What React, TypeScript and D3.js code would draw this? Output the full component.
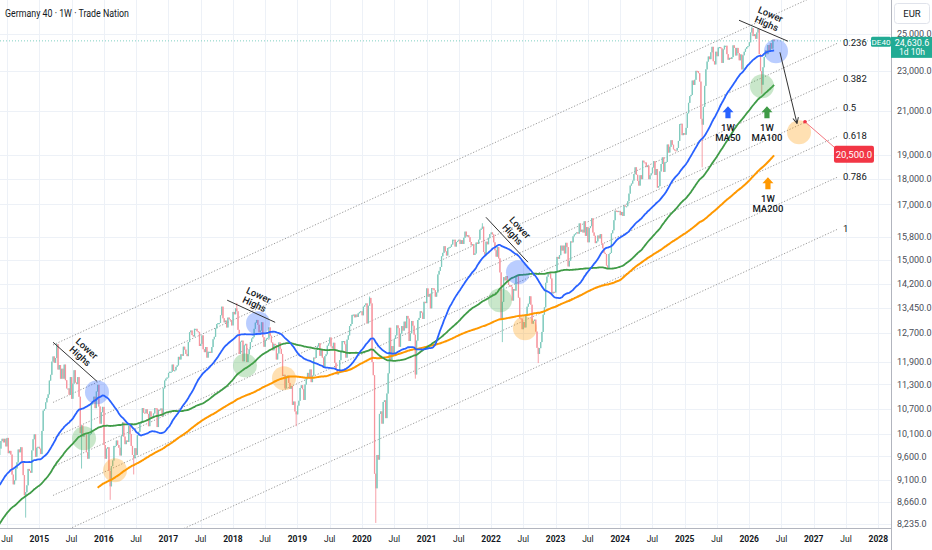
import React from 'react';
import * as d3 from 'd3';

// ---------- DATA (weekly closes, in tens of points) ----------
const close2012 = [677,669,685,686,692,688,716,700,695,678,658,680,676,656,658,627,634,598,613,623,626,642,641,656,663,669,687,694,704,697,697,721,741,745,722,740,723,738,720,736,716,710,731,741,752,760,764,761];
const close2013 = [778,772,770,783,783,765,759,766,771,801,806,791,780,766,774,746,782,812,828,840,831,835,825,813,779,796,781,821,833,840,841,834,839,842,810,828,851,868,866,862,873,887,899,901,908,917,923,941,917,901,940,955];
const close2014 = [944,947,974,939,931,929,966,966,969,935,906,934,959,970,932,941,940,956,958,963,977,994,999,991,999,982,1001,967,972,964,921,901,909,934,947,975,969,980,949,920,879,885,899,933,929,925,973,998,1009,959,979,981];
const close2015 = [977,965,1017,1065,1069,1085,1096,1105,1140,1155,1190,1204,1187,1200,1238,1169,1181,1145,1171,1145,1182,1141,1120,1120,1104,1149,1094,1132,1167,1135,1131,1149,1099,1012,1030,1004,1012,1009,969,955,1010,1010,1080,1085,1099,1071,1112,1129,1075,1034,1061,1074];
const close2016 = [985,955,977,980,929,897,939,951,983,983,995,985,979,962,1005,1037,1004,987,995,992,1029,1010,983,963,956,978,963,1007,1015,1034,1037,1071,1060,1059,1068,1057,1028,1063,1051,1049,1058,1071,1070,1026,1067,1066,1070,1051,1120,1140,1145,1148];
const close2017 = [1160,1163,1163,1182,1165,1167,1176,1180,1203,1196,1210,1206,1231,1223,1211,1205,1244,1272,1277,1264,1260,1282,1282,1275,1273,1233,1239,1263,1224,1216,1230,1201,1217,1217,1214,1230,1252,1259,1283,1296,1299,1299,1322,1348,1313,1301,1306,1286,1315,1310,1307,1292];
const close2018 = [1332,1325,1343,1334,1279,1211,1245,1248,1191,1235,1239,1189,1210,1224,1244,1254,1258,1282,1300,1308,1294,1272,1277,1301,1258,1231,1250,1254,1256,1286,1262,1243,1221,1239,1236,1196,1212,1243,1225,1211,1152,1155,1120,1152,1153,1134,1119,1126,1079,1087,1063,1056];
const close2019 = [1077,1089,1121,1128,1118,1091,1130,1146,1160,1146,1169,1136,1153,1201,1200,1222,1232,1241,1206,1224,1201,1173,1205,1210,1234,1240,1257,1232,1226,1242,1187,1169,1156,1161,1194,1219,1247,1247,1238,1201,1251,1263,1290,1296,1323,1324,1316,1324,1317,1328,1332,1334];
const close2020 = [1322,1348,1353,1358,1298,1351,1375,1358,1189,1154,923,893,963,953,1057,1063,1034,1086,1090,1047,1107,1159,1285,1195,1233,1209,1253,1263,1292,1284,1231,1268,1290,1277,1303,1284,1320,1312,1247,1269,1305,1291,1265,1156,1248,1308,1314,1334,1330,1311,1363,1359];
const close2021 = [1405,1379,1387,1343,1406,1405,1399,1379,1392,1450,1462,1475,1511,1523,1546,1528,1514,1540,1542,1544,1552,1569,1569,1545,1561,1565,1569,1554,1567,1554,1576,1598,1581,1585,1578,1561,1549,1553,1516,1521,1559,1554,1569,1605,1609,1616,1526,1517,1562,1553,1576,1589];
const close2022 = [1595,1588,1560,1532,1510,1543,1504,1457,1309,1363,1441,1431,1445,1428,1416,1414,1410,1367,1403,1398,1446,1446,1376,1313,1312,1281,1302,1286,1325,1348,1357,1380,1354,1297,1305,1309,1274,1228,1211,1227,1244,1273,1324,1346,1423,1443,1454,1453,1437,1389,1394,1392];
const close2023 = [1461,1509,1503,1515,1548,1531,1548,1521,1558,1543,1477,1496,1563,1560,1581,1588,1592,1596,1591,1628,1598,1605,1595,1636,1583,1615,1560,1611,1618,1647,1595,1583,1557,1563,1584,1574,1589,1556,1539,1523,1519,1480,1469,1519,1523,1592,1603,1640,1676,1675,1671,1675];
const close2024 = [1659,1671,1656,1696,1692,1693,1712,1742,1774,1782,1794,1821,1849,1818,1793,1774,1816,1800,1877,1870,1869,1850,1856,1800,1816,1824,1848,1875,1817,1842,1766,1772,1832,1863,1891,1830,1870,1872,1947,1912,1937,1966,1946,1926,1922,1921,1932,1963,2039,2041,1989,1998];
const close2025 = [1991,2022,2090,2140,2173,2179,2251,2229,2255,2301,2299,2289,2246,2064,2037,2121,2224,2309,2350,2377,2363,2400,2430,2352,2335,2403,2379,2426,2429,2422,2343,2416,2436,2436,2390,2360,2370,2364,2374,2438,2424,2383,2424,2396,2357,2388,2309,2384,2403,2419,2429,2434];
const close2026 = [2455,2510,2535,2490,2500,2475,2510,2530,2390,2300,2230,2320,2375,2410,2390,2440,2405,2450,2420,2470,2463.06];

const seriesYears = [2012,2013,2014,2015,2016,2017,2018,2019,2020,2021,2022,2023,2024,2025,2026];
const seriesCloses = [close2012,close2013,close2014,close2015,close2016,close2017,close2018,close2019,close2020,close2021,close2022,close2023,close2024,close2025,close2026];

// notable weekly wick extremes
const lowWickYears = [2014,2015,2016,2016,2018,2020,2020,2022,2022,2025,2026];
const lowWickIdx = [41,34,5,24,51,11,43,9,38,14,10];
const lowWickVals = [8355,9338,8699,9214,10279,8255,11450,12439,11862,18490,21850];
const highWickYears = [2015,2018,2020,2021,2026,2026];
const highWickIdx = [14,3,6,45,2,7];
const highWickVals = [12391,13597,13795,16290,25420,25300];

// axis ticks
const priceTicks = [25000,23000,21000,19000,18000,17000,15800,15000,14200,13450,12700,11900,11300,10700,10100,9600,9100,8660,8235];
const yearTicks = [2015,2016,2017,2018,2019,2020,2021,2022,2023,2024,2025,2026,2027,2028];
const julTicks = [2014.5,2015.5,2016.5,2017.5,2018.5,2019.5,2020.5,2021.5,2022.5,2023.5,2024.5,2025.5,2026.5,2027.5];

// fib channel
const channelYears = [2015.213, 2027.375];
const channelTopPrices = [12360, 27925];
const channelLevel1StartPrice = 7115;
const fibLevels = [0, 0.236, 0.382, 0.5, 0.618, 0.786, 1];
const fibLabels = ['', '0.236', '0.382', '0.5', '0.618', '0.786', '1'];

// circles
const blueCircleYears = [2015.894, 2018.389, 2022.417, 2026.415];
const blueCirclePrices = [11100, 12980, 14575, 24055];
const greenCircleYears = [2015.693, 2018.187, 2022.138, 2026.198];
const greenCirclePrices = [10000, 11800, 13680, 22220];
const orangeCircleYears = [2016.173, 2018.791, 2022.525, 2026.772];
const orangeCirclePrices = [9300, 11460, 12835, 20020];

// "Lower Highs" lines
const lhStartYears = [2015.213, 2017.911, 2021.921, 2025.842];
const lhStartPrices = [12435, 13680, 16510, 25810];
const lhEndYears = [2015.894, 2018.655, 2022.572, 2026.601];
const lhEndPrices = [11380, 13010, 14910, 24610];

// MA labels (arrow tip)
const maLabelYears = [2025.671, 2026.275, 2026.29];
const maLabelPrices = [21235, 21235, 18080];
const maLabelNames = ['MA50', 'MA100', 'MA200'];

// projection
const projFromYear = 2026.476, projFromPrice = 24000;
const projToYear = 2026.74, projToPrice = 20430;
const targetYear = 2026.864, targetPrice = 20500;
const lastPrice = 24630.6;

// ---------- STYLE ----------
const W = 932, H = 550;
const PR = 891; // plot right
const PB = 528; // plot bottom
const UP = '#7fcabd', DOWN = '#f6959e';
const BLUE = '#2962ff', GREEN = '#3f9b47', ORANGE = '#ff9800';
const GRID = '#edf1f7';
const TXT = '#131722';
const FONT = 'Roboto, "Open Sans", sans-serif';

const x = d3.scaleLinear().domain([2014.391, 2028.197]).range([0, PR]);
const y = d3.scaleLog().domain([8235, 25000]).range([524, 34.3]);

type Candle = { t: number; o: number; c: number; h: number; l: number };

function buildCandles(): Candle[] {
  const out: Candle[] = [];
  let prev: number | null = null;
  seriesYears.forEach((yr, si) => {
    const startDay = yr === 2012 ? 29 : 1;
    seriesCloses[si].forEach((v, k) => {
      const c = v * 10;
      const o = prev === null ? c : prev;
      let h = Math.max(o, c), l = Math.min(o, c);
      lowWickYears.forEach((wy, wi) => { if (wy === yr && lowWickIdx[wi] === k) l = Math.min(l, lowWickVals[wi]); });
      highWickYears.forEach((wy, wi) => { if (wy === yr && highWickIdx[wi] === k) h = Math.max(h, highWickVals[wi]); });
      out.push({ t: yr + (startDay + 7 * k) / 365.25, o, c, h, l });
      prev = c;
    });
  });
  return out;
}

function movingAverage(cs: Candle[], n: number) {
  const res: { t: number; v: number }[] = [];
  let sum = 0;
  cs.forEach((d, i) => {
    sum += d.c;
    if (i >= n) sum -= cs[i - n].c;
    if (i >= n - 1) res.push({ t: d.t, v: sum / n });
  });
  return res;
}

const fmt = d3.format(',.1f');

function Arrow({ cx, tip, color }: { cx: number; tip: number; color: string }) {
  const hw = 5.5, sw = 2.6, hh = 6, sh = 6;
  const p = `M${cx},${tip} L${cx + hw},${tip + hh} L${cx + sw},${tip + hh} L${cx + sw},${tip + hh + sh} L${cx - sw},${tip + hh + sh} L${cx - sw},${tip + hh} L${cx - hw},${tip + hh} Z`;
  return <path d={p} fill={color} />;
}

export default function App() {
  const candles = buildCandles();
  const ma50 = movingAverage(candles, 50);
  const ma100 = movingAverage(candles, 100);
  const ma200 = movingAverage(candles, 200);
  const line = d3.line<{ t: number; v: number }>().x(d => x(d.t)).y(d => y(d.v)).curve(d3.curveMonotoneX);
  const bw = 1.25;

  const cx0 = x(channelYears[0]), cy0 = y(channelTopPrices[0]);
  const cx1 = x(channelYears[1]), cy1 = y(channelTopPrices[1]);
  const cw = y(channelLevel1StartPrice) - cy0;

  const py = y(lastPrice);
  const maColors = [BLUE, GREEN, ORANGE];

  const circles = [
    ...blueCircleYears.map((t, i) => ({ t, p: blueCirclePrices[i], f: 'rgba(41,98,255,0.32)' })),
    ...greenCircleYears.map((t, i) => ({ t, p: greenCirclePrices[i], f: 'rgba(76,175,80,0.3)' })),
    ...orangeCircleYears.map((t, i) => ({ t, p: orangeCirclePrices[i], f: 'rgba(255,152,0,0.3)' })),
  ];

  const tx = x(targetYear), ty = y(targetPrice);

  return (
    <svg width={W} height={H} style={{ position: 'fixed', left: 0, top: 0, background: '#fff' }} fontFamily={FONT}>
      <defs>
        <clipPath id="plot"><rect x={0} y={0} width={PR} height={PB} /></clipPath>
        <marker id="ah" viewBox="0 0 10 10" refX="9" refY="5" markerWidth="7" markerHeight="7" orient="auto">
          <path d="M1,1 L9,5 L1,9" fill="none" stroke="#333" strokeWidth="1.4" />
        </marker>
      </defs>
      <rect x={0} y={0} width={W} height={H} fill="#fff" />
      {/* grid */}
      <g stroke={GRID} strokeWidth={1}>
        {[...yearTicks, ...julTicks].map(t => (
          <line key={'v' + t} x1={Math.round(x(t)) + 0.5} x2={Math.round(x(t)) + 0.5} y1={0} y2={PB} />
        ))}
        {priceTicks.map(p => (
          <line key={'h' + p} x1={0} x2={PR} y1={Math.round(y(p)) + 0.5} y2={Math.round(y(p)) + 0.5} />
        ))}
      </g>
      <g clipPath="url(#plot)">
        {/* fib channel */}
        {fibLevels.map(L => (
          <line key={'f' + L} x1={cx0} y1={cy0 + L * cw} x2={cx1} y2={cy1 + L * cw}
            stroke="#9a9a9a" strokeWidth={1} strokeDasharray="1.2 1.8" />
        ))}
        {/* last price line */}
        <line x1={0} x2={PR} y1={py} y2={py} stroke="#7fd1c3" strokeWidth={1} strokeDasharray="1 2" />
        {/* candles */}
        {candles.map((d, i) => {
          const col = d.c >= d.o ? UP : DOWN;
          const cx = x(d.t);
          const top = y(Math.max(d.o, d.c));
          const bot = y(Math.min(d.o, d.c));
          return (
            <g key={i}>
              <line x1={cx} x2={cx} y1={y(d.h)} y2={y(d.l)} stroke={col} strokeWidth={0.9} />
              <rect x={cx - bw / 2} y={top} width={bw} height={Math.max(1.2, bot - top)} fill={col} />
            </g>
          );
        })}
        {/* moving averages */}
        <path d={line(ma200) || ''} fill="none" stroke={ORANGE} strokeWidth={2} />
        <path d={line(ma100) || ''} fill="none" stroke={GREEN} strokeWidth={1.8} />
        <path d={line(ma50) || ''} fill="none" stroke={BLUE} strokeWidth={1.8} />
        {/* circles */}
        {circles.map((c, i) => (
          <circle key={'c' + i} cx={x(c.t)} cy={y(c.p)} r={12} fill={c.f} />
        ))}
        {/* lower highs */}
        {lhStartYears.map((t, i) => {
          const x0 = x(t), y0 = y(lhStartPrices[i]);
          const x1 = x(lhEndYears[i]), y1 = y(lhEndPrices[i]);
          const a = Math.atan2(y1 - y0, x1 - x0);
          const mx = (x0 + x1) / 2 + Math.sin(a) * 13;
          const my = (y0 + y1) / 2 - Math.cos(a) * 13;
          return (
            <g key={'lh' + i}>
              <line x1={x0} y1={y0} x2={x1} y2={y1} stroke="#333" strokeWidth={1} />
              <g transform={`translate(${mx},${my}) rotate(${(a * 180) / Math.PI})`} fontSize={9.5} fontWeight={500} fill={TXT} textAnchor="middle">
                <text y={-1.5}>Lower</text>
                <text y={8.5}>Highs</text>
              </g>
            </g>
          );
        })}
        {/* projection arrow */}
        <line x1={x(projFromYear)} y1={y(projFromPrice)} x2={x(projToYear)} y2={y(projToPrice)} stroke="#333" strokeWidth={1} markerEnd="url(#ah)" />
        {/* target */}
        <line x1={tx} y1={ty} x2={tx + 30} y2={ty + 26} stroke="#f4777f" strokeWidth={1} />
        <circle cx={tx} cy={ty} r={1.8} fill="#f23645" />
        {/* MA labels */}
        {maLabelYears.map((t, i) => {
          const cx = x(t), tip = y(maLabelPrices[i]);
          return (
            <g key={'ma' + i}>
              <Arrow cx={cx} tip={tip} color={maColors[i]} />
              <text x={cx} y={tip + 25} fontSize={9.5} fontWeight={500} fill={TXT} textAnchor="middle">1W</text>
              <text x={cx} y={tip + 35} fontSize={9.5} fontWeight={500} fill={TXT} textAnchor="middle">{maLabelNames[i]}</text>
            </g>
          );
        })}
      </g>
      {/* fib labels */}
      {fibLevels.map((L, i) => L > 0 ? (
        <text key={'fl' + L} x={cx1 + 5} y={cy1 + L * cw} dy="0.35em" fontSize={9.5} fill={TXT}>{fibLabels[i]}</text>
      ) : null)}
      {/* target label */}
      <rect x={tx + 29} y={ty + 24} width={40} height={17} rx={2} fill="#f23645" />
      <text x={tx + 49} y={ty + 32.5} dy="0.35em" fontSize={9.5} fill="#fff" textAnchor="middle">{fmt(targetPrice)}</text>
      {/* title */}
      <text x={5} y={13} dy="0.35em" fontSize={10} fill={TXT} textLength={124} lengthAdjust="spacingAndGlyphs">Germany 40 · 1W · Trade Nation</text>
      {/* axes */}
      <rect x={PR} y={0} width={W - PR} height={H} fill="#fff" />
      <rect x={0} y={PB} width={PR} height={H - PB} fill="#fff" />
      <line x1={PR + 0.5} x2={PR + 0.5} y1={0} y2={H} stroke="#b2b5be" strokeWidth={1} />
      <line x1={0} x2={PR} y1={PB + 0.5} y2={PB + 0.5} stroke="#b2b5be" strokeWidth={1} />
      {priceTicks.map(p => (
        <text key={'pt' + p} x={897} y={y(p)} dy="0.35em" fontSize={9} fill="#4a4e59">{fmt(p)}</text>
      ))}
      {yearTicks.map(t => (
        <text key={'yt' + t} x={x(t)} y={539} dy="0.35em" fontSize={8.5} fontWeight={700} fill={TXT} textAnchor="middle">{t}</text>
      ))}
      {julTicks.map(t => (
        <text key={'jt' + t} x={x(t)} y={539} dy="0.35em" fontSize={8.5} fill={TXT} textAnchor="middle">Jul</text>
      ))}
      {/* EUR box */}
      <rect x={894.5} y={3.5} width={35} height={20} rx={3} fill="#fff" stroke="#e0e3eb" />
      <text x={912} y={13.5} dy="0.35em" fontSize={9.5} fill={TXT} textAnchor="middle">EUR</text>
      {/* last price tags */}
      <rect x={871} y={py - 4} width={20} height={10} rx={1.5} fill="#22ab94" />
      <text x={881} y={py + 1} dy="0.35em" fontSize={8} fill="#fff" textAnchor="middle">DE40</text>
      <rect x={PR} y={py - 4} width={W - PR} height={21} fill="#22ab94" />
      <text x={912} y={py + 2} dy="0.35em" fontSize={9} fill="#fff" textAnchor="middle">{fmt(lastPrice)}</text>
      <text x={912} y={py + 11.5} dy="0.35em" fontSize={8.5} fill="#fff" textAnchor="middle">1d 10h</text>
    </svg>
  );
}
